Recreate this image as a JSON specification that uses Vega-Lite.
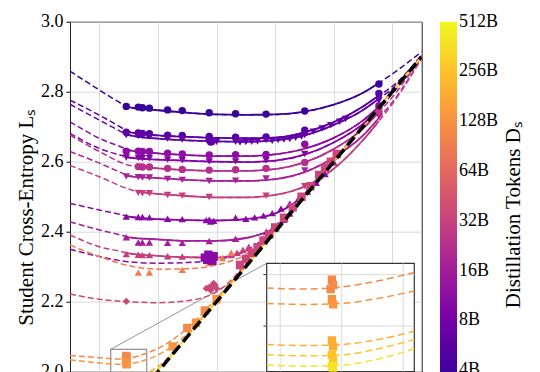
{
"$schema":"https://vega.github.io/schema/vega-lite/v6.json",
"width":351.7,"height":350,
"autosize":{"type":"none"},
"padding":{"left":70,"top":21.7,"right":118.3,"bottom":0.3},
"background":"white",
"config":{
"view":{"stroke":"#222","strokeWidth":1},
"font":"Liberation Serif",
"axis":{"labelFont":"Liberation Serif","labelFontSize":18,"labelColor":"#000","tickColor":"#000","tickSize":4,"tickWidth":1,"gridColor":"#d0d0d0","gridWidth":0.8,"titleFont":"Liberation Serif","titleFontSize":21,"titleFontWeight":"normal","titleColor":"#000","labelPadding":3,"titlePadding":4},
"legend":{"orient":"right","offset":18.3,"padding":0,"gradientLength":385,"gradientThickness":17,"gradientStrokeWidth":0,"labelFont":"Liberation Serif","labelFontSize":18,"labelColor":"#000","labelOffset":5,"labelOverlap":false,"titleFont":"Liberation Serif","titleFontSize":21,"titleFontWeight":"normal","titleColor":"#000","titleOrient":"right","titleAnchor":"middle","titlePadding":26,"titleLimit":0}
},
"datasets":{
"curves":[
{"c":"A","D":3.7,"x0":1.892,"x1":2.754},
{"c":"B1","D":5.4,"x0":1.892,"x1":2.754},
{"c":"B2","D":6.3,"x0":1.892,"x1":2.754},
{"c":"C","D":12,"x0":1.892,"x1":2.754},
{"c":"Q","D":10.2,"x0":1.892,"x1":2.754},
{"c":"E","D":22.8,"x0":1.933,"x1":2.754},
{"c":"F","D":17.4,"x0":1.892,"x1":2.754},
{"c":"G","D":29.8,"x0":1.933,"x1":2.754},
{"c":"H","D":10.9,"x0":1.892,"x1":2.6},
{"c":"I","D":16.2,"x0":1.892,"x1":2.45},
{"c":"K","D":30,"x0":1.892,"x1":2.3},
{"c":"K2","D":11,"x0":9,"x1":9},
{"c":"L","D":92,"x0":9,"x1":9},
{"c":"M","D":35,"x0":9,"x1":9},
{"c":"N1","D":114,"x0":9,"x1":9},
{"c":"N2","D":134,"x0":9,"x1":9},
{"c":"N3","D":194,"x0":9,"x1":9},
{"c":"N4","D":269,"x0":9,"x1":9},
{"c":"N5","D":392,"x0":9,"x1":9}
],
"lines":[
{"c":"A","x":1.7,"y":2.859},{"c":"A","x":1.8,"y":2.805},{"c":"A","x":1.892,"y":2.759},{"c":"A","x":1.9,"y":2.756},{"c":"A","x":2.0,"y":2.747},{"c":"A","x":2.1,"y":2.740},{"c":"A","x":2.2,"y":2.735},{"c":"A","x":2.3,"y":2.734},{"c":"A","x":2.4,"y":2.735},{"c":"A","x":2.5,"y":2.743},{"c":"A","x":2.6,"y":2.763},{"c":"A","x":2.7,"y":2.797},{"c":"A","x":2.754,"y":2.825},{"c":"A","x":2.8,"y":2.851},{"c":"A","x":2.9,"y":2.914},
{"c":"B1","x":1.7,"y":2.776},{"c":"B1","x":1.8,"y":2.733},{"c":"B1","x":1.892,"y":2.689},{"c":"B1","x":1.9,"y":2.685},{"c":"B1","x":2.0,"y":2.675},{"c":"B1","x":2.1,"y":2.671},{"c":"B1","x":2.2,"y":2.668},{"c":"B1","x":2.3,"y":2.667},{"c":"B1","x":2.4,"y":2.669},{"c":"B1","x":2.5,"y":2.684},{"c":"B1","x":2.6,"y":2.713},{"c":"B1","x":2.7,"y":2.758},{"c":"B1","x":2.754,"y":2.789},{"c":"B1","x":2.8,"y":2.815},{"c":"B1","x":2.9,"y":2.905},
{"c":"B2","x":1.7,"y":2.764},{"c":"B2","x":1.8,"y":2.719},{"c":"B2","x":1.892,"y":2.679},{"c":"B2","x":1.9,"y":2.676},{"c":"B2","x":2.0,"y":2.666},{"c":"B2","x":2.1,"y":2.661},{"c":"B2","x":2.2,"y":2.658},{"c":"B2","x":2.3,"y":2.657},{"c":"B2","x":2.4,"y":2.661},{"c":"B2","x":2.5,"y":2.675},{"c":"B2","x":2.6,"y":2.705},{"c":"B2","x":2.7,"y":2.748},{"c":"B2","x":2.754,"y":2.780},{"c":"B2","x":2.8,"y":2.808},{"c":"B2","x":2.9,"y":2.902},
{"c":"C","x":1.7,"y":2.714},{"c":"C","x":1.8,"y":2.667},{"c":"C","x":1.892,"y":2.636},{"c":"C","x":1.9,"y":2.633},{"c":"C","x":2.0,"y":2.624},{"c":"C","x":2.1,"y":2.619},{"c":"C","x":2.2,"y":2.616},{"c":"C","x":2.3,"y":2.616},{"c":"C","x":2.4,"y":2.621},{"c":"C","x":2.5,"y":2.637},{"c":"C","x":2.6,"y":2.668},{"c":"C","x":2.7,"y":2.718},{"c":"C","x":2.754,"y":2.757},{"c":"C","x":2.8,"y":2.800},{"c":"C","x":2.9,"y":2.904},
{"c":"Q","x":1.7,"y":2.681},{"c":"Q","x":1.8,"y":2.638},{"c":"Q","x":1.892,"y":2.614},{"c":"Q","x":1.9,"y":2.612},{"c":"Q","x":2.0,"y":2.606},{"c":"Q","x":2.1,"y":2.603},{"c":"Q","x":2.2,"y":2.600},{"c":"Q","x":2.3,"y":2.599},{"c":"Q","x":2.4,"y":2.603},{"c":"Q","x":2.5,"y":2.620},{"c":"Q","x":2.6,"y":2.655},{"c":"Q","x":2.7,"y":2.708},{"c":"Q","x":2.754,"y":2.750},{"c":"Q","x":2.8,"y":2.795},{"c":"Q","x":2.9,"y":2.902},
{"c":"E","x":1.7,"y":2.676},{"c":"E","x":1.8,"y":2.629},{"c":"E","x":1.9,"y":2.590},{"c":"E","x":1.933,"y":2.585},{"c":"E","x":2.0,"y":2.581},{"c":"E","x":2.1,"y":2.576},{"c":"E","x":2.2,"y":2.574},{"c":"E","x":2.3,"y":2.574},{"c":"E","x":2.4,"y":2.579},{"c":"E","x":2.5,"y":2.598},{"c":"E","x":2.6,"y":2.636},{"c":"E","x":2.7,"y":2.695},{"c":"E","x":2.754,"y":2.742},{"c":"E","x":2.8,"y":2.785},{"c":"E","x":2.9,"y":2.900},
{"c":"F","x":1.7,"y":2.629},{"c":"F","x":1.8,"y":2.596},{"c":"F","x":1.892,"y":2.562},{"c":"F","x":1.9,"y":2.559},{"c":"F","x":2.0,"y":2.553},{"c":"F","x":2.1,"y":2.548},{"c":"F","x":2.2,"y":2.545},{"c":"F","x":2.3,"y":2.545},{"c":"F","x":2.4,"y":2.550},{"c":"F","x":2.5,"y":2.570},{"c":"F","x":2.6,"y":2.612},{"c":"F","x":2.7,"y":2.675},{"c":"F","x":2.754,"y":2.725},{"c":"F","x":2.8,"y":2.770},{"c":"F","x":2.9,"y":2.897},
{"c":"G","x":1.7,"y":2.589},{"c":"G","x":1.8,"y":2.557},{"c":"G","x":1.9,"y":2.522},{"c":"G","x":1.933,"y":2.514},{"c":"G","x":2.0,"y":2.508},{"c":"G","x":2.1,"y":2.502},{"c":"G","x":2.2,"y":2.498},{"c":"G","x":2.3,"y":2.498},{"c":"G","x":2.4,"y":2.505},{"c":"G","x":2.5,"y":2.529},{"c":"G","x":2.6,"y":2.580},{"c":"G","x":2.7,"y":2.662},{"c":"G","x":2.754,"y":2.716},{"c":"G","x":2.8,"y":2.765},{"c":"G","x":2.9,"y":2.895},
{"c":"H","x":1.7,"y":2.481},{"c":"H","x":1.8,"y":2.462},{"c":"H","x":1.892,"y":2.445},{"c":"H","x":1.9,"y":2.443},{"c":"H","x":2.0,"y":2.436},{"c":"H","x":2.1,"y":2.433},{"c":"H","x":2.2,"y":2.432},{"c":"H","x":2.3,"y":2.436},{"c":"H","x":2.4,"y":2.452},{"c":"H","x":2.5,"y":2.505},{"c":"H","x":2.6,"y":2.600},{"c":"H","x":2.7,"y":2.702},{"c":"H","x":2.8,"y":2.800},{"c":"H","x":2.9,"y":2.900},
{"c":"I","x":1.7,"y":2.428},{"c":"I","x":1.8,"y":2.405},{"c":"I","x":1.892,"y":2.386},{"c":"I","x":1.9,"y":2.384},{"c":"I","x":2.0,"y":2.378},{"c":"I","x":2.1,"y":2.374},{"c":"I","x":2.2,"y":2.374},{"c":"I","x":2.3,"y":2.382},{"c":"I","x":2.35,"y":2.393},{"c":"I","x":2.4,"y":2.412},{"c":"I","x":2.45,"y":2.456},{"c":"I","x":2.5,"y":2.505},{"c":"I","x":2.6,"y":2.603},{"c":"I","x":2.7,"y":2.702},{"c":"I","x":2.8,"y":2.801},{"c":"I","x":2.9,"y":2.900},
{"c":"K","x":1.7,"y":2.391},{"c":"K","x":1.8,"y":2.357},{"c":"K","x":1.892,"y":2.340},{"c":"K","x":1.9,"y":2.338},{"c":"K","x":2.0,"y":2.331},{"c":"K","x":2.1,"y":2.327},{"c":"K","x":2.2,"y":2.326},{"c":"K","x":2.25,"y":2.331},{"c":"K","x":2.3,"y":2.345},{"c":"K","x":2.35,"y":2.368},{"c":"K","x":2.4,"y":2.406},{"c":"K","x":2.5,"y":2.504},{"c":"K","x":2.6,"y":2.603},{"c":"K","x":2.7,"y":2.702},{"c":"K","x":2.8,"y":2.801},{"c":"K","x":2.9,"y":2.900},
{"c":"K2","x":1.7,"y":2.350},{"c":"K2","x":1.8,"y":2.329},{"c":"K2","x":1.9,"y":2.314},{"c":"K2","x":2.0,"y":2.310},{"c":"K2","x":2.1,"y":2.312},{"c":"K2","x":2.2,"y":2.320},{"c":"K2","x":2.3,"y":2.345},{"c":"K2","x":2.4,"y":2.410},{"c":"K2","x":2.5,"y":2.505},{"c":"K2","x":2.6,"y":2.604},{"c":"K2","x":2.7,"y":2.703},{"c":"K2","x":2.8,"y":2.802},{"c":"K2","x":2.9,"y":2.901},
{"c":"L","x":1.7,"y":2.362},{"c":"L","x":1.8,"y":2.329},{"c":"L","x":1.9,"y":2.303},{"c":"L","x":2.0,"y":2.293},{"c":"L","x":2.1,"y":2.294},{"c":"L","x":2.2,"y":2.305},{"c":"L","x":2.3,"y":2.335},{"c":"L","x":2.4,"y":2.405},{"c":"L","x":2.5,"y":2.504},{"c":"L","x":2.6,"y":2.603},{"c":"L","x":2.7,"y":2.702},{"c":"L","x":2.8,"y":2.801},{"c":"L","x":2.9,"y":2.900},
{"c":"M","x":1.7,"y":2.222},{"c":"M","x":1.8,"y":2.207},{"c":"M","x":1.9,"y":2.200},{"c":"M","x":2.0,"y":2.197},{"c":"M","x":2.1,"y":2.203},{"c":"M","x":2.2,"y":2.228},{"c":"M","x":2.25,"y":2.262},{"c":"M","x":2.3,"y":2.310},{"c":"M","x":2.4,"y":2.406},{"c":"M","x":2.5,"y":2.505},{"c":"M","x":2.6,"y":2.604},{"c":"M","x":2.7,"y":2.703},{"c":"M","x":2.8,"y":2.802},{"c":"M","x":2.9,"y":2.901},
{"c":"N1","x":1.7,"y":2.046},{"c":"N1","x":1.8,"y":2.040},{"c":"N1","x":1.839,"y":2.037},{"c":"N1","x":1.87,"y":2.036},{"c":"N1","x":1.9,"y":2.038},{"c":"N1","x":1.93,"y":2.044},{"c":"N1","x":1.959,"y":2.052},{"c":"N1","x":2.0,"y":2.066},{"c":"N1","x":2.1,"y":2.124},{"c":"N1","x":2.2,"y":2.210},{"c":"N1","x":2.3,"y":2.304},{"c":"N1","x":2.4,"y":2.403},{"c":"N1","x":2.5,"y":2.502},{"c":"N1","x":2.6,"y":2.602},{"c":"N1","x":2.7,"y":2.701},{"c":"N1","x":2.8,"y":2.801},{"c":"N1","x":2.9,"y":2.900},
{"c":"N2","x":1.7,"y":2.034},{"c":"N2","x":1.8,"y":2.025},{"c":"N2","x":1.839,"y":2.022},{"c":"N2","x":1.87,"y":2.021},{"c":"N2","x":1.9,"y":2.022},{"c":"N2","x":1.93,"y":2.027},{"c":"N2","x":1.959,"y":2.034},{"c":"N2","x":2.0,"y":2.048},{"c":"N2","x":2.1,"y":2.108},{"c":"N2","x":2.2,"y":2.205},{"c":"N2","x":2.3,"y":2.303},{"c":"N2","x":2.4,"y":2.402},{"c":"N2","x":2.5,"y":2.502},{"c":"N2","x":2.6,"y":2.601},{"c":"N2","x":2.7,"y":2.701},{"c":"N2","x":2.8,"y":2.800},{"c":"N2","x":2.9,"y":2.900},
{"c":"N3","x":1.7,"y":1.995},{"c":"N3","x":1.8,"y":1.985},{"c":"N3","x":1.839,"y":1.982},{"c":"N3","x":1.87,"y":1.981},{"c":"N3","x":1.9,"y":1.982},{"c":"N3","x":1.93,"y":1.987},{"c":"N3","x":1.959,"y":1.995},{"c":"N3","x":2.0,"y":2.015},{"c":"N3","x":2.1,"y":2.102},{"c":"N3","x":2.2,"y":2.201},{"c":"N3","x":2.3,"y":2.301},{"c":"N3","x":2.4,"y":2.401},{"c":"N3","x":2.5,"y":2.501},{"c":"N3","x":2.6,"y":2.601},{"c":"N3","x":2.7,"y":2.700},{"c":"N3","x":2.8,"y":2.800},{"c":"N3","x":2.9,"y":2.900},
{"c":"N4","x":1.7,"y":1.985},{"c":"N4","x":1.8,"y":1.975},{"c":"N4","x":1.839,"y":1.972},{"c":"N4","x":1.87,"y":1.971},{"c":"N4","x":1.9,"y":1.972},{"c":"N4","x":1.93,"y":1.978},{"c":"N4","x":1.959,"y":1.987},{"c":"N4","x":2.0,"y":2.008},{"c":"N4","x":2.1,"y":2.101},{"c":"N4","x":2.2,"y":2.201},{"c":"N4","x":2.3,"y":2.300},{"c":"N4","x":2.4,"y":2.400},{"c":"N4","x":2.5,"y":2.500},{"c":"N4","x":2.6,"y":2.600},{"c":"N4","x":2.7,"y":2.700},{"c":"N4","x":2.8,"y":2.800},{"c":"N4","x":2.9,"y":2.900},
{"c":"N5","x":1.7,"y":1.975},{"c":"N5","x":1.8,"y":1.965},{"c":"N5","x":1.839,"y":1.962},{"c":"N5","x":1.87,"y":1.961},{"c":"N5","x":1.9,"y":1.962},{"c":"N5","x":1.93,"y":1.968},{"c":"N5","x":1.959,"y":1.978},{"c":"N5","x":2.0,"y":2.004},{"c":"N5","x":2.1,"y":2.101},{"c":"N5","x":2.2,"y":2.200},{"c":"N5","x":2.3,"y":2.300},{"c":"N5","x":2.4,"y":2.400},{"c":"N5","x":2.5,"y":2.500},{"c":"N5","x":2.6,"y":2.600},{"c":"N5","x":2.7,"y":2.700},{"c":"N5","x":2.8,"y":2.800},{"c":"N5","x":2.9,"y":2.900}
],
"pts":[
{"c":"A","S":"S1","x":1.892,"y":2.758},{"c":"A","S":"S1","x":1.933,"y":2.756},{"c":"A","S":"S1","x":1.947,"y":2.754},{"c":"A","S":"S1","x":1.971,"y":2.753},{"c":"A","S":"S1","x":2.033,"y":2.748},{"c":"A","S":"S1","x":2.083,"y":2.746},{"c":"A","S":"S1","x":2.175,"y":2.740},{"c":"A","S":"S1","x":2.265,"y":2.737},{"c":"A","S":"S1","x":2.369,"y":2.736},{"c":"A","S":"S1","x":2.501,"y":2.745},{"c":"A","S":"S1","x":2.754,"y":2.822},
{"c":"B1","S":"S1","x":1.892,"y":2.684},{"c":"B1","S":"S1","x":1.933,"y":2.682},{"c":"B1","S":"S1","x":1.947,"y":2.681},{"c":"B1","S":"S1","x":1.971,"y":2.680},{"c":"B1","S":"S1","x":2.033,"y":2.676},{"c":"B1","S":"S1","x":2.083,"y":2.675},{"c":"B1","S":"S1","x":2.175,"y":2.672},{"c":"B1","S":"S1","x":2.265,"y":2.670},{"c":"B1","S":"S1","x":2.369,"y":2.671},{"c":"B1","S":"S1","x":2.501,"y":2.690},{"c":"B1","S":"S1","x":2.754,"y":2.795},{"c":"B1","S":"S1","x":2.175,"y":2.662},{"c":"B1","S":"S1","x":2.180,"y":2.656},
{"c":"B2","S":"S2","x":1.892,"y":2.676},{"c":"B2","S":"S2","x":1.933,"y":2.674},{"c":"B2","S":"S2","x":1.947,"y":2.673},{"c":"B2","S":"S2","x":1.971,"y":2.672},{"c":"B2","S":"S2","x":2.033,"y":2.666},{"c":"B2","S":"S2","x":2.083,"y":2.663},{"c":"B2","S":"S2","x":2.175,"y":2.658},{"c":"B2","S":"S2","x":2.19,"y":2.655},{"c":"B2","S":"S2","x":2.20,"y":2.657},{"c":"B2","S":"S2","x":2.265,"y":2.657},{"c":"B2","S":"S2","x":2.28,"y":2.655},{"c":"B2","S":"S2","x":2.30,"y":2.656},{"c":"B2","S":"S2","x":2.32,"y":2.657},{"c":"B2","S":"S2","x":2.34,"y":2.658},{"c":"B2","S":"S2","x":2.369,"y":2.662},{"c":"B2","S":"S2","x":2.39,"y":2.660},{"c":"B2","S":"S2","x":2.41,"y":2.662},{"c":"B2","S":"S2","x":2.43,"y":2.663},{"c":"B2","S":"S2","x":2.45,"y":2.665},{"c":"B2","S":"S2","x":2.47,"y":2.668},{"c":"B2","S":"S2","x":2.49,"y":2.672},{"c":"B2","S":"S2","x":2.501,"y":2.676},{"c":"B2","S":"S2","x":2.53,"y":2.686},{"c":"B2","S":"S2","x":2.56,"y":2.695},{"c":"B2","S":"S2","x":2.59,"y":2.704},{"c":"B2","S":"S2","x":2.62,"y":2.714},{"c":"B2","S":"S2","x":2.64,"y":2.722},{"c":"B2","S":"S2","x":2.754,"y":2.775},
{"c":"C","S":"S1","x":1.892,"y":2.630},{"c":"C","S":"S1","x":1.933,"y":2.630},{"c":"C","S":"S1","x":1.947,"y":2.629},{"c":"C","S":"S1","x":1.971,"y":2.629},{"c":"C","S":"S1","x":2.033,"y":2.624},{"c":"C","S":"S1","x":2.083,"y":2.622},{"c":"C","S":"S1","x":2.175,"y":2.619},{"c":"C","S":"S1","x":2.265,"y":2.620},{"c":"C","S":"S1","x":2.369,"y":2.621},{"c":"C","S":"S1","x":2.501,"y":2.650},{"c":"C","S":"S1","x":2.754,"y":2.760},
{"c":"Q","S":"S2","x":1.892,"y":2.612},{"c":"Q","S":"S2","x":1.933,"y":2.611},{"c":"Q","S":"S2","x":1.947,"y":2.610},{"c":"Q","S":"S2","x":1.971,"y":2.610},{"c":"Q","S":"S2","x":2.033,"y":2.606},{"c":"Q","S":"S2","x":2.083,"y":2.604},{"c":"Q","S":"S2","x":2.175,"y":2.601},{"c":"Q","S":"S2","x":2.265,"y":2.601},{"c":"Q","S":"S2","x":2.369,"y":2.604},{"c":"Q","S":"S2","x":2.501,"y":2.622},{"c":"Q","S":"S2","x":2.754,"y":2.748},
{"c":"E","S":"S1","x":1.933,"y":2.586},{"c":"E","S":"S1","x":1.947,"y":2.585},{"c":"E","S":"S1","x":1.971,"y":2.585},{"c":"E","S":"S1","x":2.033,"y":2.581},{"c":"E","S":"S1","x":2.083,"y":2.578},{"c":"E","S":"S1","x":2.175,"y":2.576},{"c":"E","S":"S1","x":2.265,"y":2.577},{"c":"E","S":"S1","x":2.369,"y":2.581},{"c":"E","S":"S1","x":2.501,"y":2.598},{"c":"E","S":"S1","x":2.754,"y":2.742},
{"c":"F","S":"S2","x":1.892,"y":2.558},{"c":"F","S":"S2","x":1.933,"y":2.556},{"c":"F","S":"S2","x":1.947,"y":2.555},{"c":"F","S":"S2","x":1.971,"y":2.555},{"c":"F","S":"S2","x":2.033,"y":2.551},{"c":"F","S":"S2","x":2.083,"y":2.548},{"c":"F","S":"S2","x":2.175,"y":2.545},{"c":"F","S":"S2","x":2.265,"y":2.546},{"c":"F","S":"S2","x":2.369,"y":2.552},{"c":"F","S":"S2","x":2.501,"y":2.575},{"c":"F","S":"S2","x":2.754,"y":2.730},
{"c":"G","S":"S2","x":1.933,"y":2.511},{"c":"G","S":"S2","x":1.947,"y":2.510},{"c":"G","S":"S2","x":1.971,"y":2.510},{"c":"G","S":"S2","x":2.033,"y":2.505},{"c":"G","S":"S2","x":2.083,"y":2.503},{"c":"G","S":"S2","x":2.175,"y":2.499},{"c":"G","S":"S2","x":2.369,"y":2.503},{"c":"G","S":"S2","x":2.501,"y":2.530},{"c":"G","S":"S2","x":2.754,"y":2.738},
{"c":"H","S":"S3","x":1.892,"y":2.443},{"c":"H","S":"S3","x":1.933,"y":2.442},{"c":"H","S":"S3","x":1.947,"y":2.442},{"c":"H","S":"S3","x":1.971,"y":2.441},{"c":"H","S":"S3","x":2.033,"y":2.437},{"c":"H","S":"S3","x":2.083,"y":2.436},{"c":"H","S":"S3","x":2.175,"y":2.434},{"c":"H","S":"S3","x":2.265,"y":2.440},{"c":"H","S":"S3","x":2.165,"y":2.433},{"c":"H","S":"S3","x":2.18,"y":2.429},{"c":"H","S":"S3","x":2.19,"y":2.431},{"c":"H","S":"S3","x":2.30,"y":2.437},{"c":"H","S":"S3","x":2.33,"y":2.441},{"c":"H","S":"S3","x":2.36,"y":2.446},{"c":"H","S":"S3","x":2.39,"y":2.453},{"c":"H","S":"S3","x":2.42,"y":2.466},{"c":"H","S":"S3","x":2.45,"y":2.480},{"c":"H","S":"S3","x":2.48,"y":2.495},{"c":"H","S":"S3","x":2.51,"y":2.515},{"c":"H","S":"S3","x":2.54,"y":2.540},{"c":"H","S":"S3","x":2.57,"y":2.565},{"c":"H","S":"S3","x":2.60,"y":2.598},
{"c":"I","S":"S3","x":1.892,"y":2.384},{"c":"I","S":"S3","x":1.933,"y":2.369},{"c":"I","S":"S3","x":1.947,"y":2.369},{"c":"I","S":"S3","x":1.971,"y":2.369},{"c":"I","S":"S3","x":2.033,"y":2.368},{"c":"I","S":"S3","x":2.083,"y":2.368},{"c":"I","S":"S3","x":2.175,"y":2.373},{"c":"I","S":"S3","x":2.265,"y":2.380},{"c":"I","S":"S3","x":2.37,"y":2.400},{"c":"I","S":"S3","x":2.39,"y":2.408},{"c":"I","S":"S3","x":2.41,"y":2.420},{"c":"I","S":"S3","x":2.43,"y":2.434},{"c":"I","S":"S3","x":2.45,"y":2.452},
{"c":"K","S":"S3","x":1.892,"y":2.336},{"c":"K","S":"S3","x":1.933,"y":2.334},{"c":"K","S":"S3","x":1.947,"y":2.333},{"c":"K","S":"S3","x":1.971,"y":2.333},{"c":"K","S":"S3","x":2.033,"y":2.330},{"c":"K","S":"S3","x":2.083,"y":2.329},{"c":"K","S":"S3","x":2.175,"y":2.327},{"c":"K","S":"S3","x":2.25,"y":2.333},{"c":"K","S":"S3","x":2.27,"y":2.340},{"c":"K","S":"S3","x":2.29,"y":2.348},{"c":"K","S":"S3","x":2.31,"y":2.357},
{"c":"K2","S":"S5","x":2.160,"y":2.326},{"c":"K2","S":"S5","x":2.168,"y":2.320},{"c":"K2","S":"S5","x":2.175,"y":2.328},{"c":"K2","S":"S5","x":2.182,"y":2.323},{"c":"K2","S":"S5","x":2.190,"y":2.330},{"c":"K2","S":"S5","x":2.186,"y":2.317},{"c":"K2","S":"S5","x":2.172,"y":2.334},
{"c":"L","S":"S3","x":1.933,"y":2.283},{"c":"L","S":"S3","x":1.971,"y":2.283},{"c":"L","S":"S3","x":2.083,"y":2.291},{"c":"L","S":"S3","x":2.175,"y":2.311},{"c":"L","S":"S3","x":2.22,"y":2.325},{"c":"L","S":"S3","x":2.25,"y":2.340},
{"c":"M","S":"S4","x":1.892,"y":2.201},{"c":"M","S":"S4","x":2.165,"y":2.238},{"c":"M","S":"S4","x":2.175,"y":2.241},{"c":"M","S":"S4","x":2.185,"y":2.244},{"c":"M","S":"S4","x":2.195,"y":2.247},{"c":"M","S":"S4","x":2.180,"y":2.233},{"c":"M","S":"S4","x":2.200,"y":2.238},{"c":"M","S":"S4","x":2.190,"y":2.252},
{"c":"M","S":"S5","x":2.28,"y":2.305},{"c":"M","S":"S5","x":2.30,"y":2.322},{"c":"M","S":"S5","x":2.32,"y":2.340},{"c":"M","S":"S5","x":2.34,"y":2.356},{"c":"M","S":"S5","x":2.36,"y":2.375},{"c":"M","S":"S5","x":2.38,"y":2.392},{"c":"M","S":"S5","x":2.40,"y":2.412},{"c":"M","S":"S5","x":2.43,"y":2.440},{"c":"M","S":"S5","x":2.46,"y":2.470},{"c":"M","S":"S5","x":2.49,"y":2.500},{"c":"M","S":"S5","x":2.52,"y":2.530},{"c":"M","S":"S5","x":2.55,"y":2.562},{"c":"M","S":"S5","x":2.57,"y":2.583},{"c":"M","S":"S5","x":2.59,"y":2.600},{"c":"M","S":"S5","x":2.61,"y":2.622},
{"c":"N1","S":"S5","x":1.892,"y":2.045},{"c":"N1","S":"S5","x":1.893,"y":2.040},{"c":"N1","S":"S5","x":1.891,"y":2.036},{"c":"N1","S":"S5","x":2.10,"y":2.125},{"c":"N1","S":"S5","x":2.16,"y":2.175},
{"c":"N2","S":"S5","x":1.892,"y":2.026},{"c":"N2","S":"S5","x":1.893,"y":2.021},{"c":"N2","S":"S5","x":2.05,"y":2.072},{"c":"N2","S":"S5","x":2.13,"y":2.140},{"c":"N2","S":"S5","x":2.20,"y":2.207},
{"c":"N3","S":"S5","x":1.892,"y":1.986},{"c":"N3","S":"S5","x":1.893,"y":1.980},
{"c":"N4","S":"S5","x":1.892,"y":1.972},{"c":"N4","S":"S5","x":1.893,"y":1.967},
{"c":"N5","S":"S5","x":1.892,"y":1.961},{"c":"N5","S":"S5","x":1.893,"y":1.957}
]
},
"layer":[
{
"encoding":{
"x":{"field":"x","type":"quantitative","scale":{"domain":[1.7,2.9],"nice":false,"zero":false},"axis":{"values":[1.8,2.0,2.2,2.4,2.6,2.8],"labels":false,"ticks":false,"domain":false,"title":null,"grid":true}},
"y":{"field":"y","type":"quantitative","scale":{"domain":[2.0,3.0],"nice":false,"zero":false},"axis":{"values":[2.0,2.2,2.4,2.6,2.8,3.0],"format":".1f","title":"Student Cross-Entropy Lₛ","grid":true,"domain":false,"titleY":195}}
},
"layer":[
{"data":{"values":[{"x":1.839,"x2":1.962,"y":1.95,"y2":2.064}]},"mark":{"type":"rect","filled":false,"stroke":"#666","strokeWidth":0.9,"clip":true},"encoding":{"x2":{"field":"x2"},"y2":{"field":"y2"}}},
{"data":{"values":[{"x":1.839,"y":2.064,"x2":2.3711,"y2":2.3097}]},"mark":{"type":"rule","stroke":"#777","strokeWidth":0.8},"encoding":{"x2":{"field":"x2"},"y2":{"field":"y2"}}},
{"data":{"name":"lines"},"transform":[{"lookup":"c","from":{"data":{"name":"curves"},"key":"c","fields":["D","x0","x1"]}}],
 "mark":{"type":"line","strokeDash":[6,3],"strokeWidth":1.5,"interpolate":"monotone","clip":true},
 "encoding":{"detail":{"field":"c"},"stroke":{"field":"D","type":"quantitative","scale":{"type":"log","base":2,"domain":[2.4,512],"scheme":"plasma"},"legend":{"title":"Distillation Tokens Dₛ","values":[4,8,16,32,64,128,256,512],"labelExpr":"datum.value + 'B'","encode":{"title":{"update":{"angle":{"value":-90}}},"labels":{"update":{"baseline":{"value":"middle"}}}}}}}},
{"data":{"name":"lines"},"transform":[{"lookup":"c","from":{"data":{"name":"curves"},"key":"c","fields":["D","x0","x1"]}},{"filter":"datum.x >= datum.x0 && datum.x <= datum.x1"}],
 "mark":{"type":"line","strokeWidth":1.8,"interpolate":"monotone","clip":true},
 "encoding":{"detail":{"field":"c"},"stroke":{"field":"D","type":"quantitative","scale":{"type":"log","base":2,"domain":[2.4,512],"scheme":"plasma"},"legend":{"title":"Distillation Tokens Dₛ","values":[4,8,16,32,64,128,256,512],"labelExpr":"datum.value + 'B'","encode":{"title":{"update":{"angle":{"value":-90}}},"labels":{"update":{"baseline":{"value":"middle"}}}}}}}},
{"data":{"name":"pts"},"transform":[{"lookup":"c","from":{"data":{"name":"curves"},"key":"c","fields":["D"]}},{"filter":"datum.S != 'S5'"}],
 "mark":{"type":"point","filled":true,"size":55,"opacity":1,"strokeWidth":0,"clip":true},
 "encoding":{"shape":{"field":"S","type":"nominal","scale":{"domain":["S1","S2","S3","S4","S5"],"range":["circle","triangle-down","triangle-up","diamond","square"]},"legend":null},
 "fill":{"field":"D","type":"quantitative","scale":{"type":"log","base":2,"domain":[2.4,512.0001],"scheme":"plasma"},"legend":null}}},
{"data":{"name":"pts"},"transform":[{"lookup":"c","from":{"data":{"name":"curves"},"key":"c","fields":["D"]}},{"filter":"datum.S == 'S5'"}],
 "mark":{"type":"point","filled":true,"size":70,"opacity":1,"strokeWidth":0,"clip":true},
 "encoding":{"shape":{"field":"S","type":"nominal","scale":{"domain":["S1","S2","S3","S4","S5"],"range":["circle","triangle-down","triangle-up","diamond","square"]},"legend":null},
 "fill":{"field":"D","type":"quantitative","scale":{"type":"log","base":2,"domain":[2.4,512.0001],"scheme":"plasma"},"legend":null}}},
{"data":{"values":[{"x":1.7,"y":1.7},{"x":2.9,"y":2.9}]},"mark":{"type":"line","color":"black","strokeWidth":3.5,"strokeDash":[11,5],"clip":true},"encoding":{}}
]
},
{
"encoding":{
"x":{"field":"x","type":"quantitative","scale":{"domain":[1.839,1.959],"range":[196.7,344.3],"nice":false,"zero":false},"axis":null},
"y":{"field":"y","type":"quantitative","scale":{"domain":[1.9556,2.061],"range":[350,241.6],"nice":false,"zero":false},"axis":null}
},
"layer":[
{"data":{"values":[{"x":1.839,"x2":1.959,"y":1.9556,"y2":2.061}]},"mark":{"type":"rect","fill":"white","stroke":"#333","strokeWidth":1.2},"encoding":{"x2":{"field":"x2"},"y2":{"field":"y2"}}},
{"data":{"values":[{"x":1.85,"y":1.9556,"y2":2.061},{"x":1.90,"y":1.9556,"y2":2.061},{"x":1.95,"y":1.9556,"y2":2.061}]},"mark":{"type":"rule","stroke":"#d0d0d0","strokeWidth":0.8},"encoding":{"y2":{"field":"y2"}}},
{"data":{"values":[{"y":2.0,"x":1.839,"x2":1.959},{"y":2.05,"x":1.839,"x2":1.959}]},"mark":{"type":"rule","stroke":"#d0d0d0","strokeWidth":0.8},"encoding":{"x2":{"field":"x2"}}},
{"data":{"values":[{"y":2.0,"x":1.8363,"x2":1.839},{"y":2.05,"x":1.8363,"x2":1.839}]},"mark":{"type":"rule","stroke":"#333","strokeWidth":1},"encoding":{"x2":{"field":"x2"}}},
{"data":{"name":"lines"},"transform":[{"filter":{"field":"c","oneOf":["N1","N2","N3","N4","N5"]}},{"filter":{"field":"x","range":[1.839,1.959]}},{"lookup":"c","from":{"data":{"name":"curves"},"key":"c","fields":["D"]}}],
 "mark":{"type":"line","strokeDash":[7,4],"strokeWidth":1.5,"interpolate":"monotone","clip":true},
 "encoding":{"detail":{"field":"c"},"stroke":{"field":"D","type":"quantitative","scale":{"type":"log","base":2,"domain":[2.4,512],"scheme":"plasma"},"legend":{"title":"Distillation Tokens Dₛ","values":[4,8,16,32,64,128,256,512],"labelExpr":"datum.value + 'B'","encode":{"title":{"update":{"angle":{"value":-90}}},"labels":{"update":{"baseline":{"value":"middle"}}}}}}}},
{"data":{"name":"pts"},"transform":[{"filter":{"field":"x","range":[1.839,1.959]}},{"filter":{"field":"y","range":[1.9556,2.061]}},{"lookup":"c","from":{"data":{"name":"curves"},"key":"c","fields":["D"]}}],
 "mark":{"type":"point","filled":true,"size":70,"opacity":1,"strokeWidth":0,"clip":true},
 "encoding":{"shape":{"field":"S","type":"nominal","scale":{"domain":["S1","S2","S3","S4","S5"],"range":["circle","triangle-down","triangle-up","diamond","square"]},"legend":null},
 "fill":{"field":"D","type":"quantitative","scale":{"type":"log","base":2,"domain":[2.4,512.0001],"scheme":"plasma"},"legend":null}}}
]
}
],
"resolve":{"scale":{"x":"independent","y":"independent"}}
}
